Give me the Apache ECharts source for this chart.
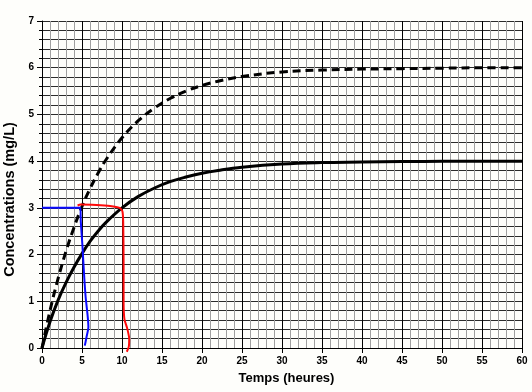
<!DOCTYPE html>
<html>
<head>
<meta charset="utf-8">
<script src="https://cdn.jsdelivr.net/npm/echarts@6/dist/echarts.min.js"></script>
<style>
html,body{margin:0;padding:0;background:#fefefb;}
#c{width:532px;height:392px;}
</style>
</head>
<body>
<div id="c"></div>
<script>
const times = [0,1,2,3,4,5,6,7,8,10,12,14,16,18,20,22,25,30,35,40,45,50,55,60];
const solidConc = [0,0.56,1.02,1.40,1.73,2.02,2.28,2.50,2.69,3.00,3.24,3.42,3.56,3.66,3.74,3.80,3.87,3.94,3.97,3.98,3.99,4.00,4.00,4.00];
const dashedConc = [0,0.80,1.48,2.07,2.58,3.03,3.41,3.74,4.03,4.50,4.86,5.13,5.34,5.50,5.62,5.71,5.81,5.91,5.95,5.97,5.98,5.99,6.00,6.00];
const blueT = [0,4.8,4.85,5.05,5.25,5.45,5.7,5.8,5.55,5.35];
const blueC = [3.0,3.0,2.7,2.2,1.6,1.1,0.7,0.45,0.22,0.05];
const redT = [4.45,4.8,6.8,8.5,9.7,10.05,10.15,10.2,10.2,10.3,10.65,10.9,10.85,10.6];
const redC = [3.05,3.07,3.06,3.04,3.0,2.93,2.7,1.85,1.0,0.62,0.42,0.2,0.03,-0.08];
const xTicks = [0,5,10,15,20,25,30,35,40,45,50,55,60];
const yTicks = [0,1,2,3,4,5,6,7];
const xTitle = 'Temps (heures)';
const yTitle = 'Concentrations (mg/L)';

const zip = (a, b) => a.map((v, i) => [v, b[i]]);
const chart = echarts.init(document.getElementById('c'), null, {renderer: 'canvas'});
const font = 'Liberation Sans, Arial, sans-serif';
chart.setOption({
  animation: false,
  backgroundColor: '#fefefb',
  grid: {left: 42, right: 10, top: 21, bottom: 44, containLabel: false, outerBoundsMode: 'none'},
  xAxis: {
    type: 'value', min: xTicks[0], max: xTicks[xTicks.length - 1], interval: 5,
    name: xTitle, nameLocation: 'middle', nameGap: 24,
    nameTextStyle: {fontFamily: font, fontWeight: 'bold', fontSize: 13, color: '#000', padding: [0, 0, 0, 9]},
    axisLine: {show: true, onZero: false, lineStyle: {color: '#000', width: 1}},
    axisTick: {show: true, length: 5, lineStyle: {color: '#000'}},
    minorTick: {show: false, splitNumber: 5},
    axisLabel: {fontFamily: font, fontWeight: 'bold', fontSize: 10, color: '#000', margin: 8},
    splitLine: {show: true, lineStyle: {color: '#000', width: 1}},
    minorSplitLine: {show: true, lineStyle: {color: '#a0a0a0', width: 1}}
  },
  yAxis: {
    type: 'value', min: yTicks[0], max: yTicks[yTicks.length - 1], interval: 1,
    name: yTitle, nameLocation: 'middle', nameGap: 13, nameRotate: 90,
    nameTextStyle: {fontFamily: font, fontWeight: 'bold', fontSize: 14.5, color: '#000', padding: [0, 30, 0, 0]},
    axisLine: {show: true, onZero: false, lineStyle: {color: '#000', width: 1}},
    axisTick: {show: true, length: 5, lineStyle: {color: '#000'}},
    minorTick: {show: true, splitNumber: 5, length: 3, lineStyle: {color: '#000'}},
    axisLabel: {fontFamily: font, fontWeight: 'bold', fontSize: 10, color: '#000', margin: 8},
    splitLine: {show: true, lineStyle: {color: '#2a2a2a', width: 1.1}},
    minorSplitLine: {show: true, lineStyle: {color: '#2a2a2a', width: 1.1}}
  },
  series: [
    {type: 'line', data: zip(times, dashedConc), smooth: 0.4, showSymbol: false,
     lineStyle: {color: '#000', width: 3, type: [8, 5]}, z: 3},
    {type: 'line', data: zip(times, solidConc), smooth: 0.4, showSymbol: false,
     lineStyle: {color: '#000', width: 3}, z: 3},
    {type: 'line', data: zip(blueT, blueC), smooth: 0.2, showSymbol: false, clip: false,
     lineStyle: {color: '#0a0aff', width: 2}, z: 4},
    {type: 'line', data: zip(redT, redC), smooth: 0.2, showSymbol: false, clip: false,
     lineStyle: {color: '#ff0a0a', width: 2}, z: 4}
  ]
});
</script>
</body>
</html>
